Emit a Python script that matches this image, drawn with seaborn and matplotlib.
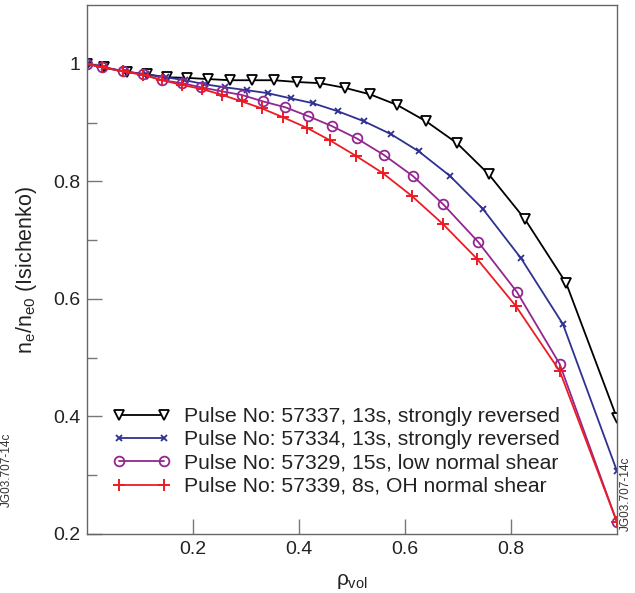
import matplotlib
matplotlib.use("Agg")
import matplotlib.pyplot as plt
import seaborn as sns
import pandas as pd
from matplotlib.ticker import FixedLocator

# ---- data ----
x_57337 = [0.0, 0.032, 0.075, 0.113, 0.151, 0.189, 0.228, 0.270, 0.311, 0.353, 0.396,
           0.440, 0.487, 0.534, 0.585, 0.640, 0.698, 0.758, 0.826, 0.904, 1.0]
y_57337 = [1.0, 0.994, 0.986, 0.982, 0.977, 0.976, 0.974, 0.972, 0.972, 0.972, 0.969,
           0.967, 0.959, 0.948, 0.930, 0.902, 0.865, 0.812, 0.736, 0.627, 0.397]

x_57334 = [0.0, 0.032, 0.072, 0.111, 0.149, 0.185, 0.223, 0.260, 0.302, 0.341, 0.385,
           0.426, 0.474, 0.523, 0.574, 0.626, 0.685, 0.747, 0.819, 0.898, 1.0]
y_57334 = [1.0, 0.994, 0.987, 0.982, 0.977, 0.972, 0.965, 0.960, 0.955, 0.950, 0.941,
           0.933, 0.919, 0.902, 0.880, 0.851, 0.809, 0.753, 0.669, 0.557, 0.307]

x_57329 = [0.0, 0.028, 0.068, 0.106, 0.142, 0.179, 0.215, 0.255, 0.292, 0.332, 0.374,
           0.417, 0.462, 0.509, 0.560, 0.615, 0.672, 0.738, 0.811, 0.892, 1.0]
y_57329 = [1.0, 0.994, 0.987, 0.982, 0.972, 0.967, 0.960, 0.953, 0.947, 0.936, 0.926,
           0.911, 0.894, 0.873, 0.845, 0.809, 0.761, 0.697, 0.612, 0.489, 0.220]

x_57339 = [0.0, 0.028, 0.068, 0.106, 0.142, 0.179, 0.217, 0.255, 0.292, 0.330, 0.370,
           0.415, 0.458, 0.508, 0.558, 0.613, 0.672, 0.736, 0.809, 0.892, 1.0]
y_57339 = [1.0, 0.994, 0.987, 0.981, 0.972, 0.964, 0.957, 0.947, 0.936, 0.924, 0.909,
           0.891, 0.870, 0.843, 0.814, 0.775, 0.727, 0.668, 0.588, 0.477, 0.220]

labels = ["Pulse No: 57337, 13s, strongly reversed",
          "Pulse No: 57334, 13s, strongly reversed",
          "Pulse No: 57329, 15s, low normal shear",
          "Pulse No: 57339, 8s, OH normal shear"]

xticks = [0.2, 0.4, 0.6, 0.8]
yticks = [0.2, 0.4, 0.6, 0.8, 1.0]
yticklabels = ["0.2", "0.4", "0.6", "0.8", "1"]
yminor = [0.3, 0.5, 0.7, 0.9]

# ---- styling ----
sns.set_theme(style="white")
plt.rcParams['font.family'] = ['Liberation Sans', 'DejaVu Sans']
plt.rcParams['mathtext.fontset'] = 'custom'
plt.rcParams['mathtext.rm'] = 'Liberation Sans'
plt.rcParams['mathtext.it'] = 'Liberation Sans'

fig = plt.figure(figsize=(6.35, 5.93), dpi=100)
ax = fig.add_axes([87/635, 59/593, 530/635, 529/593])

series = [
    (x_57337, y_57337, labels[0], "black", "v", dict(markersize=7, markerfacecolor="white", markeredgewidth=1.3)),
    (x_57334, y_57334, labels[1], "#2e3192", "x", dict(markersize=5, markeredgewidth=1.3)),
    (x_57329, y_57329, labels[2], "#92278f", "o", dict(markersize=7, markerfacecolor="none", markeredgewidth=1.3)),
    (x_57339, y_57339, labels[3], "#ed1c24", "+", dict(markersize=8, markeredgewidth=1.4)),
]

for xs, ys, lab, col, mk, kw in series:
    df = pd.DataFrame({"rho": xs, "ne": ys})
    sns.lineplot(data=df, x="rho", y="ne", ax=ax, color=col, marker=mk,
                 markeredgecolor=col, linewidth=1.3, label=lab, **kw)

ax.set_xlim(0, 1.0)
ax.set_ylim(0.2, 1.1)
ax.xaxis.set_major_locator(FixedLocator(xticks))
ax.yaxis.set_major_locator(FixedLocator(yticks))
ax.set_yticklabels(yticklabels)
ax.yaxis.set_minor_locator(FixedLocator(yminor))

for s in ax.spines.values():
    s.set_color("#666666")
    s.set_linewidth(1.0)

ax.tick_params(axis="both", which="major", direction="in", length=11, width=1.0,
               color="#777777", labelsize=14, labelcolor="#222222", pad=5,
               bottom=True, left=True, top=False, right=False)
ax.tick_params(axis="y", which="minor", direction="in", length=7, width=1.0,
               color="#777777", left=True, right=False)

ax.set_xlabel(r"$\rho_{\mathrm{vol}}$", fontsize=15, color="#222222", labelpad=10)
ax.set_ylabel(r"n$_\mathrm{e}$/n$_\mathrm{e0}$ (Isichenko)", fontsize=15.5,
              color="#222222", labelpad=10)

leg = ax.legend(loc="lower left", bbox_to_anchor=(0.024, 0.048), frameon=False,
                numpoints=2, handlelength=2.75, handletextpad=0.65, labelspacing=0.2,
                fontsize=15.2, borderaxespad=0.2)
for t in leg.get_texts():
    t.set_color("#222222")

fig.text(626/635, 1 - 494/593, "JG03.707-14c", rotation=90, fontsize=8.5,
         color="#333333", ha="center", va="center")
fig.text(7/635, 1 - 470/593, "JG03.707-14c", rotation=90, fontsize=8.5,
         color="#333333", ha="center", va="center")

fig.savefig("out.png", dpi=100)
